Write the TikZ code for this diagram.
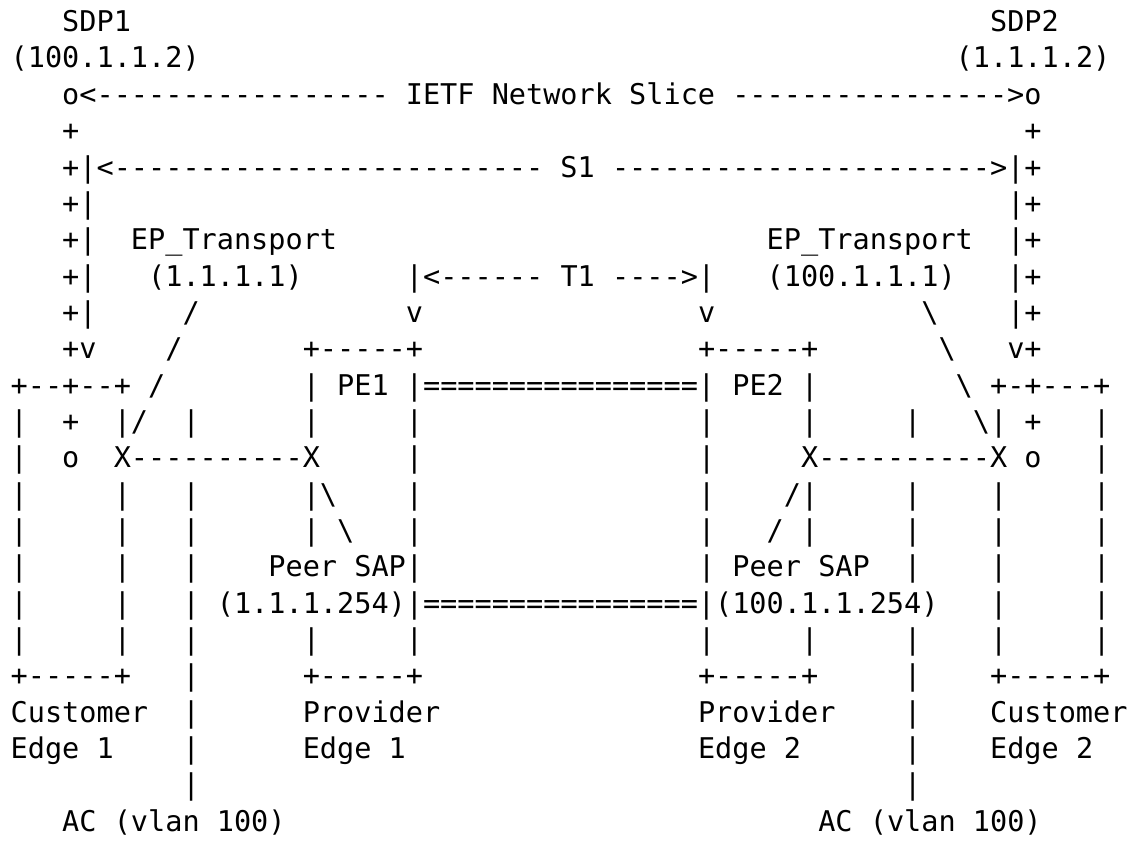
\documentclass[tikz,border=0pt]{standalone}
\usepackage{fontspec}
\setmonofont{DejaVu Sans Mono}
% blank run of #1 character cells in the current monospaced font
\newcommand\skipcols[1]{\kern#1\fontcharwd\font`\M\relax}
\newcommand\bs{\textbackslash}
\begin{document}
\begin{tikzpicture}[
  asciirow/.style={anchor=base west, inner sep=0pt, outer sep=0pt,
    font=\ttfamily\fontsize{14.27pt}{14.27pt}\selectfont\frenchspacing}]
\useasboundingbox (0,0) rectangle (570pt,-421.5pt);
\fill[white] (0,0) rectangle (570pt,-421.5pt);
\begin{scope}[xshift=5.35pt, yshift=-15.8pt, x=8.591pt, y=-18.175pt]
\node[asciirow] (row1)  at (0,0)  {\skipcols{3}SDP1\skipcols{50}SDP2};
\node[asciirow] (row2)  at (0,1)  {(100.1.1.2)\skipcols{44}(1.1.1.2)};
\node[asciirow] (row3)  at (0,2)  {\skipcols{3}o<-----------------\skipcols{1}IETF\skipcols{1}Network\skipcols{1}Slice\skipcols{1}---------------->o};
\node[asciirow] (row4)  at (0,3)  {\skipcols{3}+\skipcols{55}+};
\node[asciirow] (row5)  at (0,4)  {\skipcols{3}+|<-------------------------\skipcols{1}S1\skipcols{1}---------------------->|+};
\node[asciirow] (row6)  at (0,5)  {\skipcols{3}+|\skipcols{53}|+};
\node[asciirow] (row7)  at (0,6)  {\skipcols{3}+|\skipcols{2}EP\_Transport\skipcols{25}EP\_Transport\skipcols{2}|+};
\node[asciirow] (row8)  at (0,7)  {\skipcols{3}+|\skipcols{3}(1.1.1.1)\skipcols{6}|<------\skipcols{1}T1\skipcols{1}---->|\skipcols{3}(100.1.1.1)\skipcols{3}|+};
\node[asciirow] (row9)  at (0,8)  {\skipcols{3}+|\skipcols{5}/\skipcols{12}v\skipcols{16}v\skipcols{12}\bs\skipcols{4}|+};
\node[asciirow] (row10) at (0,9)  {\skipcols{3}+v\skipcols{4}/\skipcols{7}+-----+\skipcols{16}+-----+\skipcols{7}\bs\skipcols{3}v+};
\node[asciirow] (row11) at (0,10) {+--+--+\skipcols{1}/\skipcols{8}|\skipcols{1}PE1\skipcols{1}|================|\skipcols{1}PE2\skipcols{1}|\skipcols{8}\bs\skipcols{1}+-+---+};
\node[asciirow] (row12) at (0,11) {|\skipcols{2}+\skipcols{2}|/\skipcols{2}|\skipcols{6}|\skipcols{5}|\skipcols{16}|\skipcols{5}|\skipcols{5}|\skipcols{3}\bs|\skipcols{1}+\skipcols{3}|};
\node[asciirow] (row13) at (0,12) {|\skipcols{2}o\skipcols{2}X----------X\skipcols{5}|\skipcols{16}|\skipcols{5}X----------X\skipcols{1}o\skipcols{3}|};
\node[asciirow] (row14) at (0,13) {|\skipcols{5}|\skipcols{3}|\skipcols{6}|\bs\skipcols{4}|\skipcols{16}|\skipcols{4}/|\skipcols{5}|\skipcols{4}|\skipcols{5}|};
\node[asciirow] (row15) at (0,14) {|\skipcols{5}|\skipcols{3}|\skipcols{6}|\skipcols{1}\bs\skipcols{3}|\skipcols{16}|\skipcols{3}/\skipcols{1}|\skipcols{5}|\skipcols{4}|\skipcols{5}|};
\node[asciirow] (row16) at (0,15) {|\skipcols{5}|\skipcols{3}|\skipcols{4}Peer\skipcols{1}SAP|\skipcols{16}|\skipcols{1}Peer\skipcols{1}SAP\skipcols{2}|\skipcols{4}|\skipcols{5}|};
\node[asciirow] (row17) at (0,16) {|\skipcols{5}|\skipcols{3}|\skipcols{1}(1.1.1.254)|================|(100.1.1.254)\skipcols{3}|\skipcols{5}|};
\node[asciirow] (row18) at (0,17) {|\skipcols{5}|\skipcols{3}|\skipcols{6}|\skipcols{5}|\skipcols{16}|\skipcols{5}|\skipcols{5}|\skipcols{4}|\skipcols{5}|};
\node[asciirow] (row19) at (0,18) {+-----+\skipcols{3}|\skipcols{6}+-----+\skipcols{16}+-----+\skipcols{5}|\skipcols{4}+-----+};
\node[asciirow] (row20) at (0,19) {Customer\skipcols{2}|\skipcols{6}Provider\skipcols{15}Provider\skipcols{4}|\skipcols{4}Customer};
\node[asciirow] (row21) at (0,20) {Edge\skipcols{1}1\skipcols{4}|\skipcols{6}Edge\skipcols{1}1\skipcols{17}Edge\skipcols{1}2\skipcols{6}|\skipcols{4}Edge\skipcols{1}2};
\node[asciirow] (row22) at (0,21) {\skipcols{10}|\skipcols{41}|};
\node[asciirow] (row23) at (0,22) {\skipcols{3}AC\skipcols{1}(vlan\skipcols{1}100)\skipcols{31}AC\skipcols{1}(vlan\skipcols{1}100)};
\end{scope}
\end{tikzpicture}
\end{document}
